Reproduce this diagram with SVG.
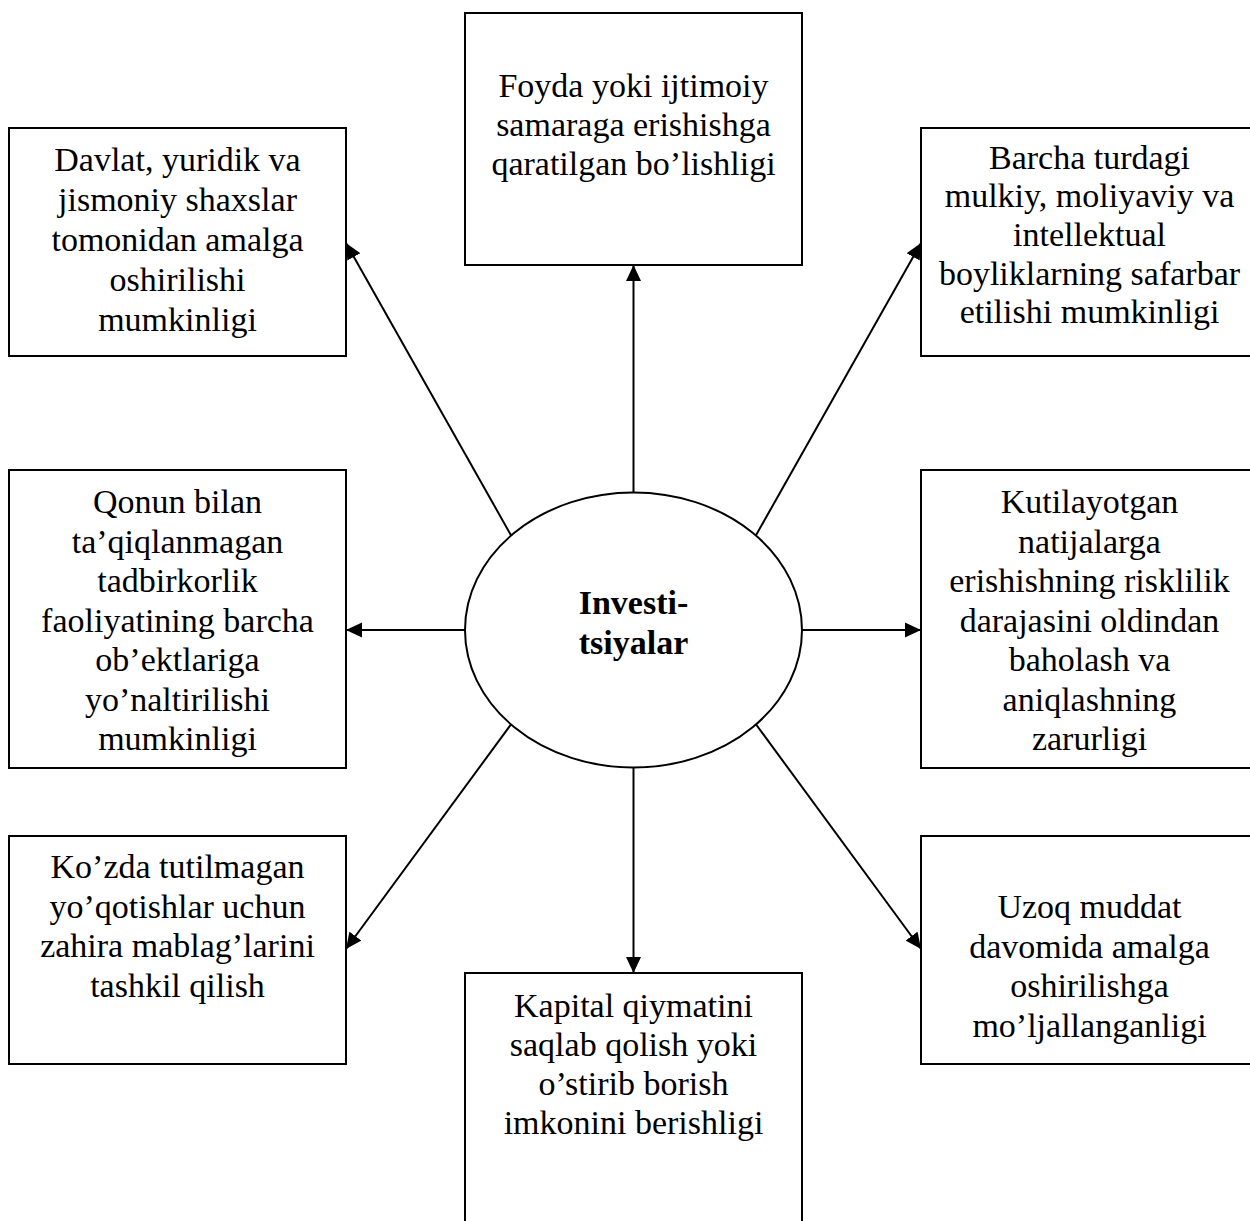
<svg xmlns="http://www.w3.org/2000/svg" width="1250" height="1221" viewBox="0 0 1250 1221">
  <style>
    .box { fill: #ffffff; stroke: #000000; stroke-width: 2; }
    .hub { fill: #ffffff; stroke: #000000; stroke-width: 2; }
    .lbl { font-family: "Liberation Serif", "Times New Roman", serif; font-size: 34px; fill: #000000; text-anchor: middle; }
    .hubtxt { font-family: "Liberation Serif", "Times New Roman", serif; font-size: 34px; font-weight: bold; fill: #000000; text-anchor: middle; }
    .link { fill: none; stroke: #000000; stroke-width: 2; marker-end: url(#arrow); }
  </style>
  <defs>
    <marker id="arrow" markerUnits="userSpaceOnUse" markerWidth="16" markerHeight="16" refX="16" refY="8" orient="auto">
      <path d="M0,0.5 L16,8 L0,15.5 Z" fill="#000000"/>
    </marker>
  </defs>
  <rect width="1250" height="1221" fill="#ffffff"/>

  <!-- connectors from the central ellipse to each box -->
  <g id="connectors">
    <line class="link" x1="633.5" y1="493" x2="633.5" y2="265"/>
    <line class="link" x1="633.5" y1="768" x2="633.5" y2="973"/>
    <line class="link" x1="465" y1="630" x2="346" y2="630"/>
    <line class="link" x1="802" y1="630" x2="921" y2="630"/>
    <line class="link" x1="512" y1="537" x2="346" y2="243"/>
    <line class="link" x1="755" y1="537" x2="921" y2="243"/>
    <line class="link" x1="512" y1="723" x2="346" y2="949"/>
    <line class="link" x1="755" y1="723" x2="921" y2="949"/>
  </g>

  <g id="hub">
    <ellipse class="hub" cx="633.5" cy="630" rx="168.5" ry="137.5"/>
    <text class="hubtxt" x="633.5" y="614">Investi-</text>
    <text class="hubtxt" x="633.5" y="654">tsiyalar</text>
  </g>

  <g id="node-top">
    <rect class="box" x="465" y="13" width="337" height="252"/>
    <text class="lbl" x="633.5" y="97">Foyda yoki ijtimoiy</text>
    <text class="lbl" x="633.5" y="136">samaraga erishishga</text>
    <text class="lbl" x="633.5" y="175">qaratilgan bo’lishligi</text>
  </g>

  <g id="node-top-left">
    <rect class="box" x="9" y="128" width="337" height="228"/>
    <text class="lbl" x="177.5" y="171">Davlat, yuridik va</text>
    <text class="lbl" x="177.5" y="210.5">jismoniy shaxslar</text>
    <text class="lbl" x="177.5" y="250.5">tomonidan amalga</text>
    <text class="lbl" x="177.5" y="290.5">oshirilishi</text>
    <text class="lbl" x="177.5" y="331">mumkinligi</text>
  </g>

  <g id="node-top-right">
    <rect class="box" x="921" y="128" width="337" height="228"/>
    <text class="lbl" x="1089.5" y="168.5">Barcha turdagi</text>
    <text class="lbl" x="1089.5" y="207">mulkiy, moliyaviy va</text>
    <text class="lbl" x="1089.5" y="245.5">intellektual</text>
    <text class="lbl" x="1089.5" y="284.5">boyliklarning safarbar</text>
    <text class="lbl" x="1089.5" y="322.5">etilishi mumkinligi</text>
  </g>

  <g id="node-mid-left">
    <rect class="box" x="9" y="470" width="337" height="298"/>
    <text class="lbl" x="177.5" y="513">Qonun bilan</text>
    <text class="lbl" x="177.5" y="552.5">ta’qiqlanmagan</text>
    <text class="lbl" x="177.5" y="592">tadbirkorlik</text>
    <text class="lbl" x="177.5" y="631.5">faoliyatining barcha</text>
    <text class="lbl" x="177.5" y="671">ob’ektlariga</text>
    <text class="lbl" x="177.5" y="710.5">yo’naltirilishi</text>
    <text class="lbl" x="177.5" y="750">mumkinligi</text>
  </g>

  <g id="node-mid-right">
    <rect class="box" x="921" y="470" width="337" height="298"/>
    <text class="lbl" x="1089.5" y="513">Kutilayotgan</text>
    <text class="lbl" x="1089.5" y="552.5">natijalarga</text>
    <text class="lbl" x="1089.5" y="592">erishishning risklilik</text>
    <text class="lbl" x="1089.5" y="631.5">darajasini oldindan</text>
    <text class="lbl" x="1089.5" y="671">baholash va</text>
    <text class="lbl" x="1089.5" y="710.5">aniqlashning</text>
    <text class="lbl" x="1089.5" y="750">zarurligi</text>
  </g>

  <g id="node-bottom-left">
    <rect class="box" x="9" y="836" width="337" height="228"/>
    <text class="lbl" x="177.5" y="878">Ko’zda tutilmagan</text>
    <text class="lbl" x="177.5" y="917.5">yo’qotishlar uchun</text>
    <text class="lbl" x="177.5" y="957">zahira mablag’larini</text>
    <text class="lbl" x="177.5" y="997">tashkil qilish</text>
  </g>

  <g id="node-bottom-right">
    <rect class="box" x="921" y="836" width="337" height="228"/>
    <text class="lbl" x="1089.5" y="918">Uzoq muddat</text>
    <text class="lbl" x="1089.5" y="957.5">davomida amalga</text>
    <text class="lbl" x="1089.5" y="997">oshirilishga</text>
    <text class="lbl" x="1089.5" y="1037">mo’ljallanganligi</text>
  </g>

  <g id="node-bottom">
    <rect class="box" x="465" y="973" width="337" height="260"/>
    <text class="lbl" x="633.5" y="1016.5">Kapital qiymatini</text>
    <text class="lbl" x="633.5" y="1055.5">saqlab qolish yoki</text>
    <text class="lbl" x="633.5" y="1095">o’stirib borish</text>
    <text class="lbl" x="633.5" y="1134">imkonini berishligi</text>
  </g>
</svg>
